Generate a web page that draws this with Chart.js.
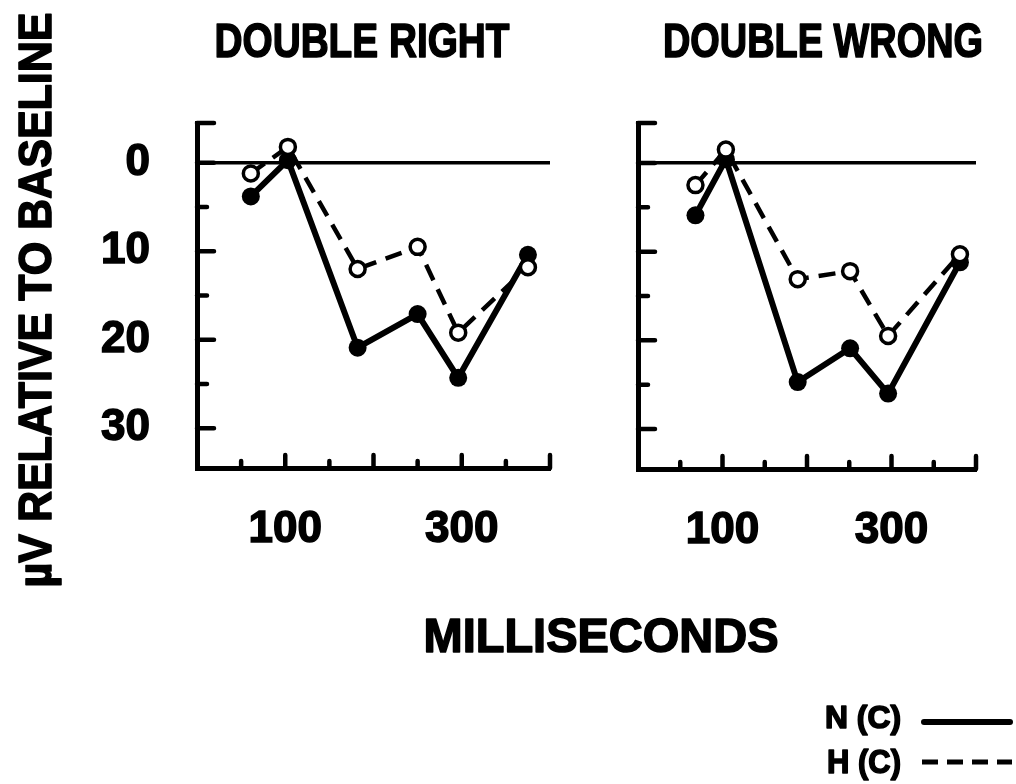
<!DOCTYPE html>
<html>
<head>
<meta charset="utf-8">
<script src="https://cdn.jsdelivr.net/npm/chart.js@4"></script>
<style>
  body { margin: 0; background: #fff; }
  #sheet { position: relative; width: 1016px; height: 784px; }
  #sheet canvas { position: absolute; left: 0; top: 0; }
</style>
</head>
<body>
<div id="sheet">
  <canvas id="rightChart" width="1016" height="784"></canvas>
  <canvas id="wrongChart" width="1016" height="784"></canvas>
</div>
<script>
// latencies (ms) and amplitudes (uV, plotted downward) for each condition
const panelTitles = ['DOUBLE RIGHT', 'DOUBLE WRONG'];
const seriesNames = ['N (C)', 'H (C)'];

const msRight = [61, 103, 182, 250, 296, 375];
const nRight = [3.8, -0.3, 20.9, 17.1, 24.3, 10.4];
const hRight = [1.2, -1.8, 12.0, 9.5, 19.2, 11.8];

const msWrong = [68, 104, 189, 251, 296, 381];
const nWrong = [5.9, -0.4, 24.7, 20.9, 26.0, 11.2];
const hWrong = [2.5, -1.5, 13.1, 12.2, 19.5, 10.3];

const xStops = [0, 50, 100, 150, 200, 250, 300, 350, 400];
const xLabeled = [100, 300];
const yStops = [0, 5, 10, 15, 20, 25, 30];
const yLabeled = [0, 10, 20, 30];

const FONT = '"Liberation Sans", Arial, sans-serif';
const W = 1016, H = 784;

// draws bold text squeezed horizontally to a given width, with a light
// outline so the lettering reads as heavy as pen lettering
function fitText(ctx, text, x, y, width, size, angle) {
    ctx.save();
    ctx.font = 'bold ' + size + 'px ' + FONT;
    ctx.translate(x, y);
    if (angle) ctx.rotate(angle);
    const w = ctx.measureText(text).width;
    ctx.scale(width / w, 1);
    ctx.textAlign = 'center';
    ctx.textBaseline = 'alphabetic';
    ctx.fillStyle = '#000';
    ctx.strokeStyle = '#000';
    ctx.lineWidth = 1.6;
    ctx.lineJoin = 'round';
    ctx.fillText(text, 0, 0);
    ctx.strokeText(text, 0, 0);
    ctx.restore();
}

// inward tick marks, longer every 100 ms / 10 uV
const tickMarks = {
    id: 'tickMarks',
    beforeDatasetsDraw(chart) {
        const { ctx, chartArea: a, scales: { x, y } } = chart;
        ctx.save();
        ctx.strokeStyle = '#000';
        ctx.lineWidth = 4.5;
        ctx.lineCap = 'round';
        ctx.beginPath();
        x.ticks.forEach(t => {
            if (t.value === 0) return;
            const px = x.getPixelForValue(t.value);
            const len = t.value % 100 === 0 ? 13 : 7;
            ctx.moveTo(px, a.bottom);
            ctx.lineTo(px, a.bottom - len);
        });
        y.ticks.forEach(t => {
            const py = y.getPixelForValue(t.value);
            const len = t.value % 10 === 0 ? 17 : 10;
            ctx.moveTo(a.left, py);
            ctx.lineTo(a.left + len, py);
        });
        const top = y.getPixelForValue(y.min);
        ctx.moveTo(a.left, top);
        ctx.lineTo(a.left + 17, top);
        ctx.stroke();
        ctx.restore();
    }
};

const panelTitle = {
    id: 'panelTitle',
    afterDraw(chart, args, opts) {
        fitText(chart.ctx, opts.text, opts.x, opts.y, opts.width, 48);
    }
};

// axis titles and key, drawn once on the first panel
const sheetText = {
    id: 'sheetText',
    afterDraw(chart) {
        const ctx = chart.ctx;
        fitText(ctx, '\u00b5V RELATIVE TO BASELINE', 51, 300, 575, 46, -Math.PI / 2);
        fitText(ctx, 'MILLISECONDS', 601, 652, 355, 49);
        fitText(ctx, seriesNames[0], 863, 728, 76, 32);
        fitText(ctx, seriesNames[1], 864, 773, 74, 34);

        ctx.save();
        ctx.strokeStyle = '#000';
        ctx.lineWidth = 6;
        ctx.lineCap = 'round';
        ctx.beginPath();
        ctx.moveTo(924, 722);
        ctx.lineTo(1010, 722);
        ctx.stroke();
        ctx.lineWidth = 5;
        ctx.lineCap = 'butt';
        ctx.setLineDash([16, 9]);
        ctx.beginPath();
        ctx.moveTo(922, 762);
        ctx.lineTo(1012, 762);
        ctx.stroke();
        ctx.restore();
    }
};

function makePanel(id, title, ms, nVals, hVals, area, showY, extra) {
    const ctx = document.getElementById(id).getContext('2d');
    const tickFont = { family: FONT, size: 44, weight: 'bold', lineHeight: 1 };
    return new Chart(ctx, {
        type: 'line',
        data: {
            datasets: [{
                label: seriesNames[1],
                data: ms.map((v, i) => ({ x: v, y: hVals[i] })),
                borderColor: '#000',
                borderWidth: 4.5,
                borderDash: [17, 10],
                pointRadius: 7.5,
                pointBorderWidth: 3.5,
                pointBorderColor: '#000',
                pointBackgroundColor: '#fff',
                tension: 0,
                fill: false
            }, {
                label: seriesNames[0],
                data: ms.map((v, i) => ({ x: v, y: nVals[i] })),
                borderColor: '#000',
                borderWidth: 6,
                borderCapStyle: 'round',
                borderJoinStyle: 'round',
                pointRadius: 9,
                pointBorderWidth: 0,
                pointBackgroundColor: '#000',
                tension: 0,
                fill: false
            }]
        },
        options: {
            responsive: false,
            animation: false,
            clip: false,
            layout: {
                padding: { left: 0, top: area.top, right: W - area.right, bottom: 0 }
            },
            plugins: {
                legend: { display: false },
                tooltip: { enabled: false },
                panelTitle: title
            },
            scales: {
                x: {
                    type: 'linear',
                    min: 0,
                    max: 400,
                    afterBuildTicks: s => { s.ticks = xStops.map(v => ({ value: v })); },
                    afterFit: s => { s.height = H - area.bottom; },
                    grid: { display: false, drawTicks: false },
                    border: { display: true, color: '#000', width: 5 },
                    ticks: {
                        autoSkip: false,
                        maxRotation: 0,
                        padding: 40,
                        color: '#000',
                        textStrokeColor: '#000',
                        textStrokeWidth: 1.5,
                        font: tickFont,
                        callback: v => xLabeled.includes(v) ? String(v) : ''
                    }
                },
                y: {
                    type: 'linear',
                    reverse: true,
                    min: -4.5,
                    max: 34.5,
                    afterBuildTicks: s => { s.ticks = yStops.map(v => ({ value: v })); },
                    afterFit: s => { s.width = area.left; },
                    grid: {
                        drawTicks: false,
                        color: c => c.tick && c.tick.value === 0 ? '#000' : 'rgba(0,0,0,0)',
                        lineWidth: 3.5
                    },
                    border: { display: true, color: '#000', width: 5 },
                    ticks: {
                        display: showY,
                        autoSkip: false,
                        padding: 47,
                        color: '#000',
                        textStrokeColor: '#000',
                        textStrokeWidth: 1.5,
                        font: tickFont,
                        callback: v => yLabeled.includes(v) ? String(v) : ''
                    }
                }
            }
        },
        plugins: extra ? [tickMarks, panelTitle, sheetText] : [tickMarks, panelTitle]
    });
}

makePanel('rightChart', { text: panelTitles[0], x: 362, y: 57, width: 295 },
    msRight, nRight, hRight, { left: 197, top: 123, right: 550, bottom: 468 }, true, true);
makePanel('wrongChart', { text: panelTitles[1], x: 823, y: 57, width: 320 },
    msWrong, nWrong, hWrong, { left: 638, top: 123, right: 992, bottom: 469 }, false, false);
</script>
</body>
</html>
